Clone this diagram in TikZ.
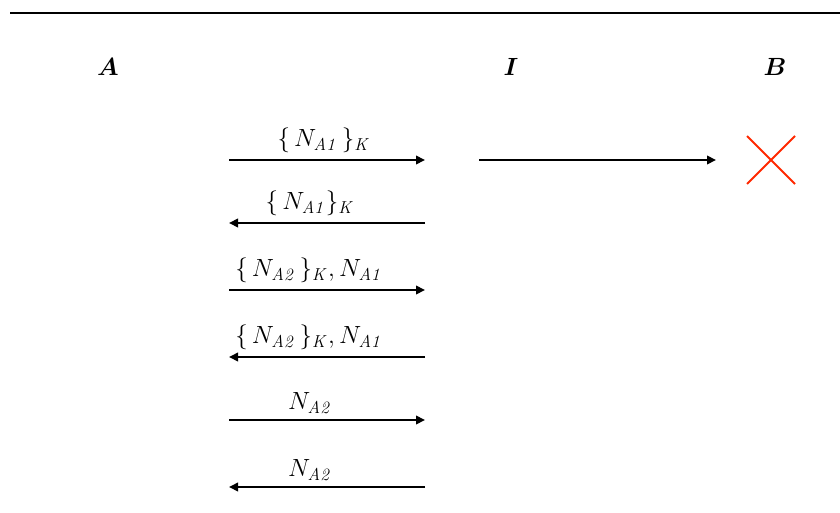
\documentclass[tikz,border=0pt]{standalone}
\usepackage{amsmath,bm}
\usetikzlibrary{arrows.meta,positioning,shapes.misc}

\begin{document}
\begin{tikzpicture}[
  x=1pt, y=-1pt,
  >=Triangle,
  party/.style={
    inner sep=0pt, font=\fontsize{28}{30}\selectfont
  },
  lbl/.style={
    inner sep=1pt, font=\fontsize{27}{30}\selectfont
  },
  msg/.style={line width=2pt, black,
    arrows={-Triangle[length=9pt,width=8.5pt]}
  },
  cross/.style={cross out, draw, line width=2pt,
    color={rgb,255:red,255;green,40;blue,0},
    minimum width=46pt, minimum height=46pt, inner sep=0pt
  }
]

\useasboundingbox (0,0) rectangle (840,513);

%% ── Header rule and participants ────────────────────────────────────
\coordinate (ruleL) at (10,13);
\coordinate (ruleR) at (840,13);
\draw[line width=2pt] (ruleL) -- (ruleR);

\node[party] (pa) at (108,67) {$\bm{A}$};
\node[party] (pi) at (511,67) {$\bm{I}$};
\node[party] (pb) at (775,67) {$\bm{B}$};

%% ── Message end points ──────────────────────────────────────────────
\foreach \i/\y in {1/160,2/223,3/290,4/357,5/420,6/487}{
  \coordinate (l\i) at (229,\y);
  \coordinate (r\i) at (425,\y);
}
\coordinate (f1) at (479,160);
\coordinate (f2) at (716,160);

%% ── Messages between A and I ────────────────────────────────────────
\draw[msg] (l1) -- (r1)
  node[lbl, midway, above=5pt, xshift=-3pt] (m1) {$\{\,N_{\mathit{A1}}\,\}_{\mathit{K}}$};
\draw[msg] (r2) -- (l2)
  node[lbl, midway, above=5pt, xshift=-17pt] (m2) {$\{\,N_{\mathit{A1}}\}_{\mathit{K}}$};
\draw[msg] (l3) -- (r3)
  node[lbl, midway, above=5pt, xshift=-18pt] (m3) {$\{\,N_{\mathit{A2}}\,\}_{\mathit{K}},N_{\mathit{A1}}$};
\draw[msg] (r4) -- (l4)
  node[lbl, midway, above=5pt, xshift=-18pt] (m4) {$\{\,N_{\mathit{A2}}\,\}_{\mathit{K}},N_{\mathit{A1}}$};
\draw[msg] (l5) -- (r5)
  node[lbl, midway, above=5pt, xshift=-17pt] (m5) {$N_{\mathit{A2}}$};
\draw[msg] (r6) -- (l6)
  node[lbl, midway, above=5pt, xshift=-17pt] (m6) {$N_{\mathit{A2}}$};

%% ── Forward from I towards B (blocked) ──────────────────────────────
\draw[msg] (f1) -- (f2);
\node[cross] (xb) at (771,160) {};

\end{tikzpicture}
\end{document}
